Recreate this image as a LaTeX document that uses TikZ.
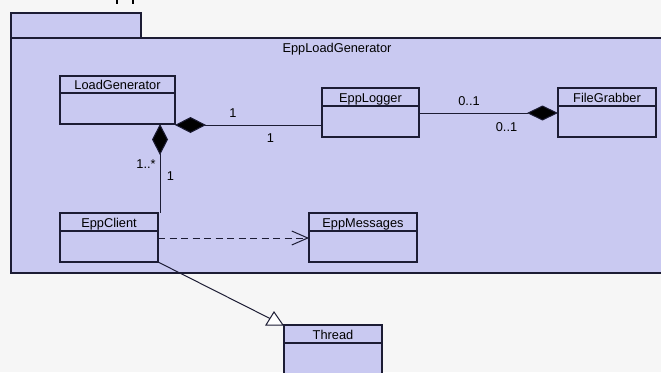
\documentclass[tikz,border=0pt]{standalone}
\usepackage{fontspec}
\setmainfont{Liberation Sans}
\usetikzlibrary{arrows.meta,calc}
\definecolor{pkgfill}{RGB}{201,201,241}
\definecolor{pagebg}{RGB}{246,246,246}
\definecolor{edge}{RGB}{28,28,52}
\tikzset{
  classbox/.style={draw=edge, fill=pkgfill, line width=1.3pt, rectangle, inner sep=0pt, outer sep=0pt, anchor=north west},
  pkgbox/.style={draw=edge, fill=pkgfill, line width=1.5pt, rectangle, inner sep=0pt, outer sep=0pt, anchor=north west},
  lbl/.style={font=\fontsize{12.8}{14}\selectfont, inner sep=0pt, text=black, anchor=base},
  conn/.style={draw=edge, line width=1pt},
  compo/.style={conn, {Diamond[length=31pt,width=16pt,fill=black]}-},
  depend/.style={conn, dash pattern=on 7pt off 4.5pt, -{Straight Barb[length=16pt,width=14pt,line width=1pt]}},
}
% a class box with an empty attribute compartment below its header
\newcommand{\umlclass}[7]{%
  \node[classbox, minimum width=#4pt, minimum height=#5pt] (#1) at (#2,#3) {};
  \draw[draw=edge, line width=1.3pt] ([yshift=-#6pt]#1.north west) -- ([yshift=-#6pt]#1.north east);
  \node[lbl] at ([yshift=-#6pt+4pt]#1.north) {#7};
}
\begin{document}
\begin{tikzpicture}[x=1pt,y=-1pt]
  \useasboundingbox (0,0) rectangle (661,372);
  \fill[pagebg] (0,0) rectangle (661,372);
  % cut-off heading strokes at the top edge
  \draw[black, line width=2pt] (117,0) -- (117,3.5);
  \draw[black, line width=2pt] (133,0) -- (133,3.5);

  % package with its tab
  \node[pkgbox, minimum width=130pt, minimum height=25pt] (tab) at (11,13) {};
  \node[pkgbox, minimum width=660pt, minimum height=235pt] (pkg) at (11,38) {};
  \node[lbl] (pkgname) at (337,52) {EppLoadGenerator};

  % classes
  \umlclass{lg}{60}{76}{115}{48}{17}{LoadGenerator}
  \umlclass{el}{322}{88}{97}{49}{18}{EppLogger}
  \umlclass{fg}{558}{88}{98}{49}{18}{FileGrabber}
  \umlclass{ec}{60}{213}{98}{49}{18}{EppClient}
  \umlclass{em}{309}{213}{108}{49}{18}{EppMessages}
  \umlclass{th}{284}{325}{98}{60}{18}{Thread}

  % composition LoadGenerator -- EppLogger
  \draw[compo] ([yshift=-1pt]lg.south east) -- ([yshift=-1pt]lg.south east -| el.west);
  \node[lbl] (m1) at (233,117) {1};
  \node[lbl] (m2) at (270.5,142) {1};

  % composition LoadGenerator -- EppClient
  \draw[compo] ([xshift=-15pt]lg.south east) -- ([xshift=-15pt]lg.south east |- ec.north);
  \node[lbl] (m3) at (146,168) {1..*};
  \node[lbl] (m4) at (170.5,180) {1};

  % composition FileGrabber -- EppLogger
  \draw[conn, -{Diamond[length=31pt,width=15pt,fill=black]}] ([yshift=-25pt]el.north east) -- ([yshift=-25pt]fg.north west);
  \node[lbl] (m5) at (469,105) {0..1};
  \node[lbl] (m6) at (506.5,131) {0..1};

  % dependency EppClient -> EppMessages
  \draw[depend] ([yshift=-25pt]ec.north east) -- ([yshift=-25pt]em.north west);

  % generalization EppClient -> Thread
  \coordinate (gleft) at ($(th.north west)+(-18pt,0pt)$);
  \coordinate (gright) at ($(th.north west)+(-1pt,0pt)$);
  \coordinate (gapex) at ($(th.north west)+(-10pt,13pt)$);
  \coordinate (gend) at ($(gleft)!0.5!(gapex)$);
  \draw[conn] (ec.south east) -- (gend);
  \draw[draw=edge, line width=1pt, fill=white, line join=miter] (gapex) -- (gright) -- (gleft) -- cycle;
\end{tikzpicture}
\end{document}
